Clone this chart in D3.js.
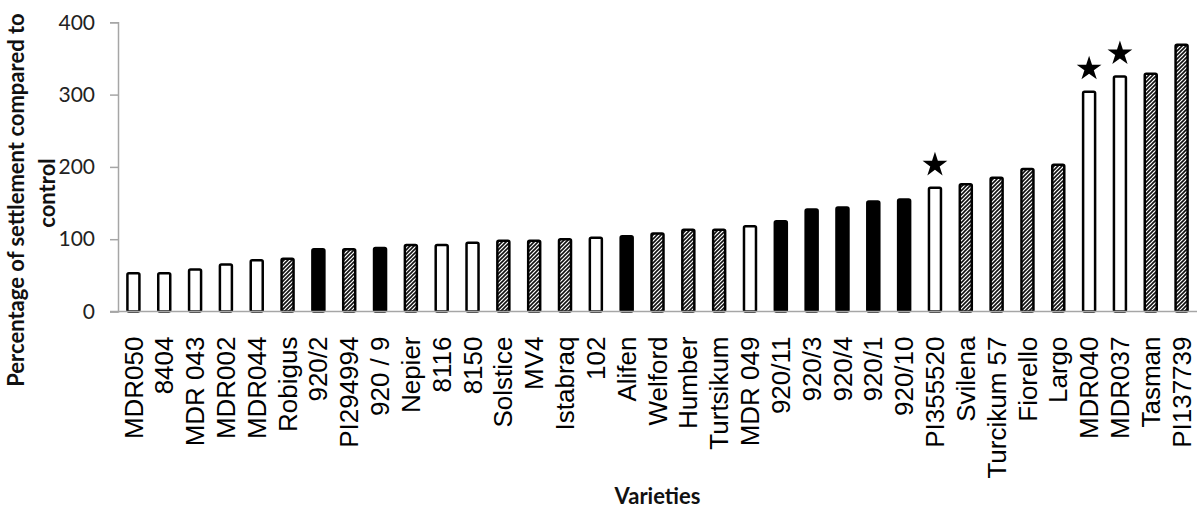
<!DOCTYPE html>
<html>
<head>
<meta charset="utf-8">
<script src="https://cdn.jsdelivr.net/npm/d3@7"></script>
<style>
  html, body { margin: 0; padding: 0; background: #fff; }
  svg { display: block; }
</style>
</head>
<body>
<svg id="chart" width="1200" height="508"></svg>
<script>
const categories = ["MDR050","8404","MDR 043","MDR002","MDR044","Robigus","920/2","PI294994","920 / 9","Nepier","8116","8150","Solstice","MV4","Istabraq","102","Alifen","Welford","Humber","Turtsikum","MDR 049","920/11","920/3","920/4","920/1","920/10","PI355520","Svilena","Turcikum 57","Fiorello","Largo","MDR040","MDR037","Tasman","PI137739"];
const values = [53,53,58,65,71,73,86,86,88,92,92,95,98,98,100,102,104,108,113,113,118,125,141,144,152,155,171,176,185,197,203,304,325,329,369];
const fillTypes = ["open","open","open","open","open","hatch","solid","hatch","solid","hatch","open","open","hatch","hatch","hatch","open","solid","hatch","hatch","hatch","open","solid","solid","solid","solid","solid","open","hatch","hatch","hatch","hatch","open","open","hatch","hatch"];
const starred = ["PI355520","MDR040","MDR037"];
const yTicks = [0,100,200,300,400];
const yTitleLines = ["Percentage of settlement compared to","control"];
const xTitle = "Varieties";

const svg = d3.select("#chart");
const mLeft = 118, mRight = 1197, mTop = 22.3, mBottom = 311.5;

const defs = svg.append("defs");
const pat = defs.append("pattern")
  .attr("id","hatch").attr("patternUnits","userSpaceOnUse")
  .attr("width",4).attr("height",4);
pat.append("rect").attr("width",4).attr("height",4).attr("fill","#fff");
pat.append("path").attr("d","M-1,1 l2,-2 M0,4 l4,-4 M3,5 l2,-2")
  .attr("stroke","#111").attr("stroke-width",1.6);

const x = d3.scaleBand().domain(categories).range([mLeft, mRight]).paddingInner(0.6).paddingOuter(0.3);
const y = d3.scaleLinear().domain([0,400]).range([mBottom, mTop]);

const data = categories.map((c,i)=>({c, v: values[i], t: fillTypes[i]}));

// y axis
const yAxis = svg.append("g").attr("transform",`translate(${mLeft},0)`)
  .call(d3.axisLeft(y).tickValues(yTicks).tickSize(8).tickPadding(15));
yAxis.select(".domain").attr("stroke","#a6a6a6").attr("stroke-width",1.5);
yAxis.selectAll(".tick line").attr("stroke","#a6a6a6").attr("stroke-width",1.5);
yAxis.selectAll(".tick text").attr("font-family","Lato, sans-serif").attr("font-size",21).attr("fill","#222");

// bars
svg.append("g").selectAll("rect").data(data).join("rect")
  .attr("x", d => x(d.c) + x.bandwidth()/2 - 6)
  .attr("width", 12)
  .attr("y", d => y(d.v))
  .attr("height", d => y(0) - y(d.v))
  .attr("rx",1.5)
  .attr("fill", d => d.t === "solid" ? "#000" : d.t === "hatch" ? "url(#hatch)" : "#fff")
  .attr("stroke","#000").attr("stroke-width",2.5);

// x axis
const xAxis = svg.append("g").attr("transform",`translate(0,${mBottom})`)
  .call(d3.axisBottom(x).tickSize(0).tickPadding(0).tickSizeOuter(0));
xAxis.select(".domain").attr("stroke","#a6a6a6").attr("stroke-width",1.5)
  .attr("d", `M${mLeft-8},0H${mRight}`);
xAxis.selectAll(".tick text")
  .attr("transform","rotate(-90)")
  .attr("x",-25).attr("y",0).attr("dy","0.35em")
  .attr("text-anchor","end")
  .attr("font-family","'Liberation Sans', Arial, sans-serif")
  .attr("font-size",26).attr("fill","#000");

// stars
svg.append("g").selectAll("path").data(data.filter(d => starred.includes(d.c))).join("path")
  .attr("d", d3.symbol().type(d3.symbolStar).size(190))
  .attr("transform", d => `translate(${x(d.c)+x.bandwidth()/2},${y(d.v)-23})`)
  .attr("fill","#000");

// titles
svg.append("text").attr("transform",`translate(24,200) rotate(-90)`)
  .attr("text-anchor","middle").attr("font-family","Lato, sans-serif").attr("font-weight","bold")
  .attr("font-size",22).attr("fill","#111").text(yTitleLines[0]);
svg.append("text").attr("transform",`translate(55,193) rotate(-90)`)
  .attr("text-anchor","middle").attr("font-family","Lato, sans-serif").attr("font-weight","bold")
  .attr("font-size",22).attr("fill","#111").text(yTitleLines[1]);
svg.append("text").attr("x",(mLeft+mRight)/2).attr("y",504)
  .attr("text-anchor","middle").attr("font-family","Lato, sans-serif").attr("font-weight","bold")
  .attr("font-size",22).attr("fill","#111").text(xTitle);
</script>
</body>
</html>
